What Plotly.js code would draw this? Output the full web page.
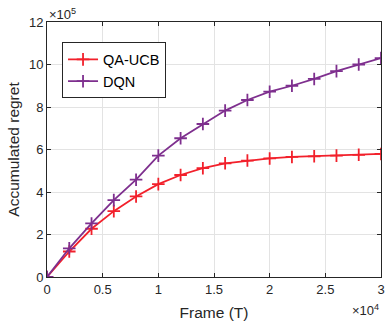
<!DOCTYPE html>
<html>
<head>
<meta charset="utf-8">
<script src="https://cdn.plot.ly/plotly-3.0.1.min.js"></script>
<style>
html,body{margin:0;padding:0;background:#fff;}
#chart{width:386px;height:327px;}
</style>
</head>
<body>
<div id="chart"></div>
<script>
var frames = [0, 2000, 4000, 6000, 8000, 10000, 12000, 14000, 16000, 18000, 20000, 22000, 24000, 26000, 28000, 30000];
var qaUcb = [0, 120000, 227000, 310000, 379000, 437000, 480000, 512000, 535000, 548000, 558000, 565000, 568000, 571000, 575000, 579000];
var dqn = [0, 135000, 252000, 362000, 458000, 571000, 653000, 720000, 783000, 833000, 872000, 900000, 932000, 969000, 1000000, 1030000];
var xTickVals = [0, 5000, 10000, 15000, 20000, 25000, 30000];
var xTickText = ['0', '0.5', '1', '1.5', '2', '2.5', '3'];
var yTickVals = [0, 200000, 400000, 600000, 800000, 1000000, 1200000];
var yTickText = ['0', '2', '4', '6', '8', '10', '12'];

var font = 'Liberation Sans, Arial, Helvetica, sans-serif';
var red = '#f2202b';
var purple = '#7e2f8e';

var traces = [
  {x: frames, y: qaUcb, name: 'QA-UCB', type: 'scatter', mode: 'lines+markers',
   line: {color: red, width: 1.8},
   marker: {symbol: 'cross-thin', size: 9, color: red, line: {color: red, width: 1.8}}},
  {x: frames, y: dqn, name: 'DQN', type: 'scatter', mode: 'lines+markers',
   line: {color: purple, width: 1.8},
   marker: {symbol: 'cross-thin', size: 9, color: purple, line: {color: purple, width: 1.8}}}
];

var axisCommon = {
  showline: true, linecolor: '#262626', linewidth: 1, mirror: 'ticks',
  ticks: 'inside', ticklen: 4, tickcolor: '#262626',
  showgrid: true, gridcolor: '#e3e3e3', gridwidth: 1,
  zeroline: false, tickfont: {family: font, size: 13, color: '#262626'},
  tickmode: 'array', fixedrange: true
};

var layout = {
  width: 386, height: 327,
  margin: {l: 47, r: 5, t: 22, b: 50},
  paper_bgcolor: '#fff', plot_bgcolor: '#fff',
  showlegend: true,
  legend: {x: 0.045, y: 0.92, xanchor: 'left', yanchor: 'top',
    bgcolor: '#fff', bordercolor: '#262626', borderwidth: 1,
    font: {family: font, size: 14.5, color: '#000'}, tracegroupgap: 0,
    itemwidth: 30},
  xaxis: Object.assign({}, axisCommon, {
    range: [0, 30000], tickvals: xTickVals, ticktext: xTickText,
    title: {text: 'Frame (T)', font: {family: font, size: 15.5, color: '#262626'}, standoff: 11}
  }),
  yaxis: Object.assign({}, axisCommon, {
    range: [0, 1200000], tickvals: yTickVals, ticktext: yTickText,
    title: {text: 'Accumulated regret', font: {family: font, size: 15.5, color: '#262626'}, standoff: 5}
  }),
  annotations: [
    {xref: 'paper', yref: 'paper', x: 0, y: 1, xanchor: 'left', yanchor: 'bottom',
     text: '×10<sup>5</sup>', showarrow: false, yshift: -2,
     font: {family: font, size: 13, color: '#262626'}},
    {xref: 'paper', yref: 'paper', x: 1, y: 0, xanchor: 'right', yanchor: 'top',
     text: '×10<sup>4</sup>', showarrow: false, yshift: -23,
     font: {family: font, size: 13, color: '#262626'}}
  ]
};

Plotly.newPlot('chart', traces, layout, {displayModeBar: false, staticPlot: true});
</script>
</body>
</html>
